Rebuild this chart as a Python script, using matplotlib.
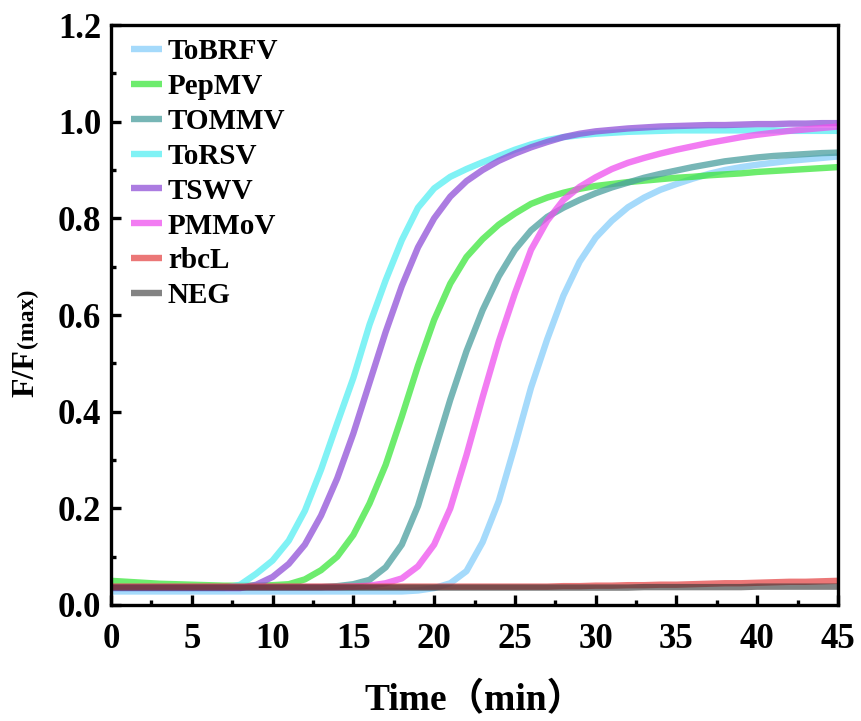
"""
Normalised fluorescence curves F/F(max) for the virus panel.
"""

import matplotlib
matplotlib.use('Agg')
import matplotlib.pyplot as plt
from matplotlib.ticker import MultipleLocator

# Tid (min), ett punkt per minutt
tid = list(range(0, 46))

tobrfv = [0.028] * 19 + [0.030, 0.035, 0.045, 0.070, 0.130, 0.215, 0.330, 0.450, 0.550,
                         0.640, 0.710, 0.760, 0.795, 0.823, 0.843, 0.859, 0.871, 0.882,
                         0.892, 0.900, 0.906, 0.911, 0.915, 0.919, 0.922, 0.925, 0.928]
pepmv = [0.050, 0.048, 0.046, 0.044, 0.043, 0.042, 0.041, 0.040, 0.040, 0.040, 0.041,
         0.043, 0.053, 0.072, 0.100, 0.145, 0.210, 0.290, 0.390, 0.495, 0.590, 0.665,
         0.720, 0.757, 0.787, 0.810, 0.830, 0.843, 0.853, 0.861, 0.867, 0.871, 0.875,
         0.878, 0.881, 0.884, 0.886, 0.889, 0.891, 0.893, 0.896, 0.898, 0.900, 0.902,
         0.904, 0.906]
tommv = [0.037] * 14 + [0.039, 0.043, 0.052, 0.078, 0.125, 0.205, 0.315, 0.425, 0.525,
                        0.610, 0.680, 0.735, 0.775, 0.803, 0.822, 0.838, 0.852, 0.864,
                        0.874, 0.884, 0.892, 0.899, 0.906, 0.912, 0.918, 0.922, 0.926,
                        0.929, 0.931, 0.933, 0.935, 0.936]
torsv = [0.035] * 8 + [0.042, 0.065, 0.092, 0.133, 0.195, 0.280, 0.376, 0.470, 0.580,
                       0.672, 0.755, 0.822, 0.862, 0.886, 0.902, 0.916, 0.929, 0.942,
                       0.953, 0.962, 0.968, 0.972, 0.975, 0.977, 0.979, 0.980, 0.981,
                       0.982, 0.982, 0.982, 0.982, 0.982, 0.982, 0.982, 0.981, 0.981,
                       0.981, 0.981]
tswv = [0.035] * 9 + [0.042, 0.058, 0.085, 0.125, 0.185, 0.262, 0.355, 0.460, 0.565,
                      0.660, 0.740, 0.800, 0.845, 0.877, 0.900, 0.919, 0.934, 0.947,
                      0.958, 0.968, 0.975, 0.980, 0.983, 0.986, 0.988, 0.990, 0.991,
                      0.992, 0.993, 0.993, 0.994, 0.995, 0.995, 0.996, 0.996, 0.997,
                      0.997]
pmmov = [0.037] * 15 + [0.038, 0.040, 0.045, 0.055, 0.080, 0.125, 0.200, 0.310, 0.430,
                        0.545, 0.645, 0.735, 0.795, 0.838, 0.865, 0.885, 0.902, 0.915,
                        0.925, 0.934, 0.942, 0.949, 0.956, 0.962, 0.968, 0.973, 0.977,
                        0.981, 0.984, 0.987, 0.990]
rbcl = [0.038] * 28 + [0.039, 0.039, 0.040, 0.040, 0.041, 0.041, 0.042, 0.042, 0.043,
                       0.044, 0.045, 0.045, 0.046, 0.047, 0.048, 0.048, 0.049, 0.050]
neg = [0.036] * 30 + [0.036, 0.036, 0.036, 0.037, 0.037, 0.037, 0.037, 0.037, 0.037,
                      0.037, 0.038, 0.038, 0.038, 0.038, 0.038, 0.038]

navn = ['ToBRFV', 'PepMV', 'TOMMV', 'ToRSV', 'TSWV', 'PMMoV', 'rbcL', 'NEG']
serier = [tobrfv, pepmv, tommv, torsv, tswv, pmmov, rbcl, neg]
farger = ['#87CEFA', '#3CE63C', '#4A9E9E', '#55EEF2', '#9050D8', '#EE50EE', '#E54A4A', '#303030']
alfa = [0.75, 0.75, 0.75, 0.75, 0.75, 0.75, 0.75, 0.6]

serif = ['Liberation Serif', 'DejaVu Serif']
plt.rcParams['font.family'] = serif
plt.rcParams['font.weight'] = 'bold'

fig = plt.figure(figsize=(8.62, 7.21), dpi=100)
ax = fig.add_axes([0.1288, 0.1609, 0.8434, 0.8044])

for y, label, farge, a in zip(serier, navn, farger, alfa):
    ax.plot(tid, y, color=farge, lw=4.6, alpha=a, label=label, solid_capstyle='butt')

ax.set_xlim(0, 45)
ax.set_ylim(0, 1.2)
ax.xaxis.set_major_locator(MultipleLocator(5))
ax.xaxis.set_minor_locator(MultipleLocator(2.5))
ax.yaxis.set_major_locator(MultipleLocator(0.2))
ax.yaxis.set_minor_locator(MultipleLocator(0.1))
ax.yaxis.set_major_formatter(plt.FormatStrFormatter('%.1f'))

for side in ax.spines.values():
    side.set_linewidth(2.4)
ax.tick_params(which='both', direction='in', width=2.4, top=False, right=False)
ax.tick_params(which='major', length=7, labelsize=25)
ax.tick_params(axis='x', which='major', pad=13)
ax.tick_params(axis='y', which='major', pad=7)
ax.tick_params(which='minor', length=3.5)
for t in ax.get_xticklabels() + ax.get_yticklabels():
    t.set_fontweight('bold')

ax.set_xlabel('Time（min）', fontsize=27, fontweight='bold',
              family=['Liberation Serif', 'Noto Sans CJK SC'], labelpad=19)

leg = ax.legend(loc='upper left', frameon=False, fontsize=21, handlelength=1.05,
                handletextpad=0.2, labelspacing=0.27, borderaxespad=0.05,
                bbox_to_anchor=(0.01, 1.0))
for tekst in leg.get_texts():
    tekst.set_fontweight('bold')
for linje in leg.get_lines():
    linje.set_linewidth(4.6)

# y-aksetittel: "F/F" stor, "(max)" mindre paa samme grunnlinje
fig.canvas.draw()
t1 = fig.text(33 / 862, 1 - 397 / 721, 'F/F', rotation=90, rotation_mode='anchor',
              ha='left', va='baseline', fontsize=23, fontweight='bold')
fig.canvas.draw()
bb = t1.get_window_extent()
fig.text(33 / 862, bb.y1 / fig.bbox.height + 0.002, '(max)', rotation=90,
         rotation_mode='anchor', ha='left', va='baseline', fontsize=17, fontweight='bold')

fig.savefig('out.png', dpi=100)
